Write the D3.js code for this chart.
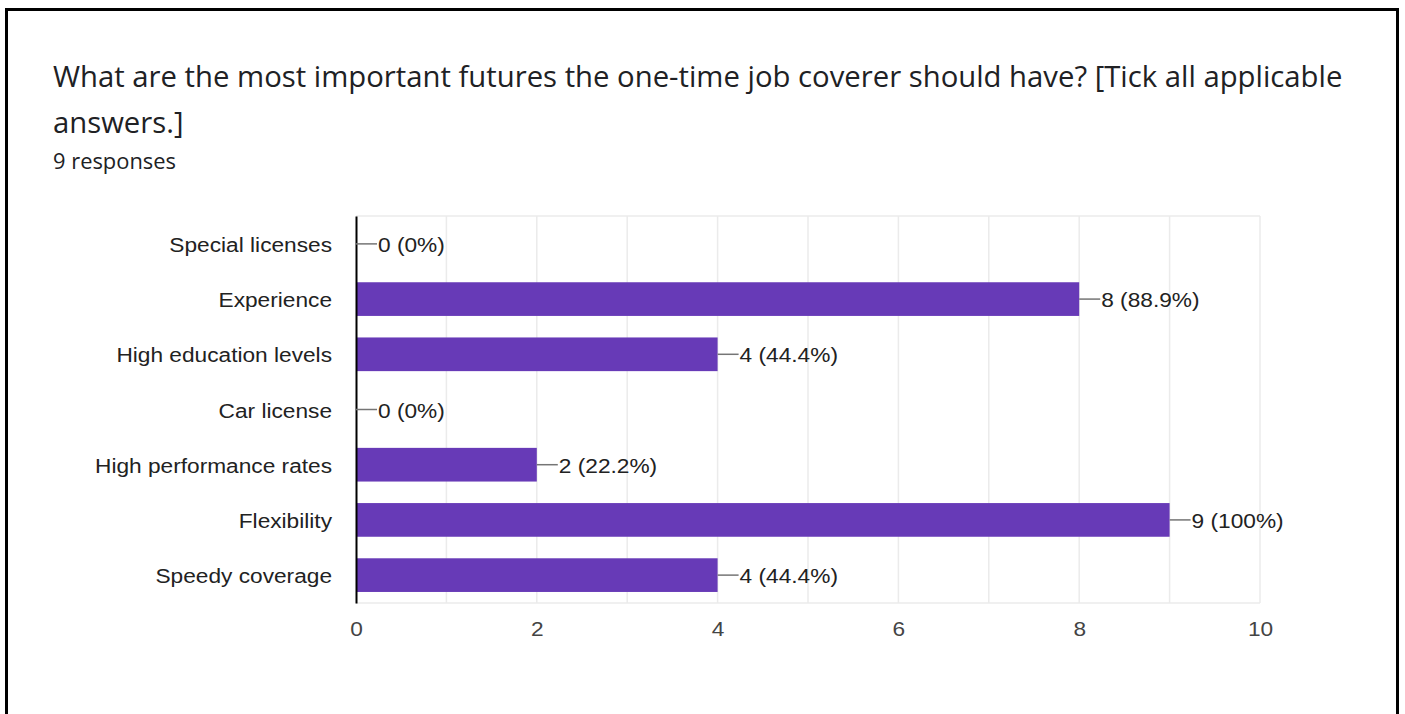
<!DOCTYPE html>
<html lang="en">
<head>
<meta charset="utf-8">
<title>Job coverer features</title>
<script src="https://d3js.org/d3.v7.min.js"></script>
<style>
  body { margin: 0; background: #fff; }
  .title { font-family: "Open Sans", Roboto, sans-serif; }
  .chart text { font-family: "Liberation Sans", Arial, sans-serif; }
</style>
</head>
<body>
<div id="chart"></div>
<script>
var categories = ["Special licenses", "Experience", "High education levels", "Car license",
                  "High performance rates", "Flexibility", "Speedy coverage"]
var counts = [0, 8, 4, 0, 2, 9, 4]
var percents = ["0%", "88.9%", "44.4%", "0%", "22.2%", "100%", "44.4%"]
var xTicks = [0, 2, 4, 6, 8, 10]

var w = 1405, h = 714
var svg = d3.select("#chart").append("svg")
  .attr("width", w).attr("height", h)

// the screenshot is a little wider than tall, so text gets stretched sideways
function stretch(sel, k) {
  sel.each(function() {
    var len = this.getComputedTextLength()
    d3.select(this).attr("textLength", len * k).attr("lengthAdjust", "spacingAndGlyphs")
  })
}

// frame round the screenshot
svg.append("path")
  .attr("d", "M6.5,720 L6.5,9.5 L1397.5,9.5 L1397.5,720")
  .attr("fill", "none").attr("stroke", "#000").attr("stroke-width", 3)

var t1 = svg.append("text").attr("class", "title").attr("x", 53).attr("y", 87)
  .attr("font-size", 28).attr("fill", "#202124")
  .text("What are the most important futures the one-time job coverer should have? [Tick all applicable")
// fit the first title line to the width seen in the reference
var fs = 28 * 1290 / t1.node().getComputedTextLength()
t1.attr("font-size", fs)
svg.append("text").attr("class", "title").attr("x", 53).attr("y", 133)
  .attr("font-size", fs).attr("fill", "#202124")
  .text("answers.]")
var t3 = svg.append("text").attr("class", "title").attr("x", 53).attr("y", 169)
  .attr("font-size", 20).attr("fill", "#202124")
  .text("9 responses")
t3.attr("font-size", 20 * 123 / t3.node().getComputedTextLength())

var pLeft = 356, pRight = 1260, pTop = 216, pBottom = 603

var x = d3.scaleLinear().domain([0, 10]).range([pLeft, pRight])
var y = d3.scaleBand().domain(categories).range([pTop, pBottom]).paddingInner(0.39).paddingOuter(0.2)

var g = svg.append("g").attr("class", "chart")

// grid
g.append("g").selectAll("line")
  .data(d3.range(1, 11))
  .enter().append("line")
  .attr("x1", function(d) { return x(d) }).attr("x2", function(d) { return x(d) })
  .attr("y1", pTop).attr("y2", pBottom)
  .attr("stroke", "#ebebeb").attr("stroke-width", 1.5)
g.append("line")
  .attr("x1", pLeft).attr("x2", pRight).attr("y1", pTop).attr("y2", pTop)
  .attr("stroke", "#ebebeb").attr("stroke-width", 1.5)
g.append("line")
  .attr("x1", pLeft).attr("x2", pRight).attr("y1", pBottom).attr("y2", pBottom)
  .attr("stroke", "#ebebeb").attr("stroke-width", 1.5)

// bars
g.append("g").selectAll("rect")
  .data(categories)
  .enter().append("rect")
  .attr("x", pLeft)
  .attr("y", function(d) { return y(d) })
  .attr("width", function(d, i) { return x(counts[i]) - pLeft })
  .attr("height", y.bandwidth())
  .attr("fill", "#673ab7")

// category axis
var yAxis = d3.axisLeft(y).tickSize(0).tickPadding(24)
var gy = g.append("g").attr("transform", "translate(" + pLeft + ",0)").call(yAxis)
gy.select(".domain").attr("stroke", "#000").attr("stroke-width", 2)
gy.selectAll("text").attr("font-size", 20).attr("fill", "#222").attr("dy", "0.4em")

// widen chart text to the reference: "High performance rates" spans about 237px
var probe = gy.selectAll("text").filter(function(d) { return d == "High performance rates" })
var k = 237 / probe.node().getComputedTextLength()
stretch(gy.selectAll("text"), k)

// value labels with leader line
var lab = g.append("g").selectAll("g")
  .data(categories)
  .enter().append("g")
  .attr("transform", function(d, i) {
    return "translate(" + x(counts[i]) + "," + (y(d) + y.bandwidth() / 2) + ")"
  })
lab.append("line").attr("x1", 0).attr("x2", 21).attr("y1", 0).attr("y2", 0)
  .attr("stroke", "#757575").attr("stroke-width", 1.5)
var vt = lab.append("text").attr("x", 22).attr("dy", "0.4em")
  .attr("font-size", 20).attr("fill", "#222")
  .text(function(d, i) { return counts[i] + " (" + percents[i] + ")" })
stretch(vt, k)

// value axis
var xAxis = d3.axisBottom(x).tickValues(xTicks).tickSize(0).tickPadding(19)
var gx = g.append("g").attr("transform", "translate(0," + pBottom + ")").call(xAxis)
gx.select(".domain").remove()
gx.selectAll("text").attr("font-size", 20).attr("fill", "#444")
stretch(gx.selectAll("text"), k)
</script>
</body>
</html>
